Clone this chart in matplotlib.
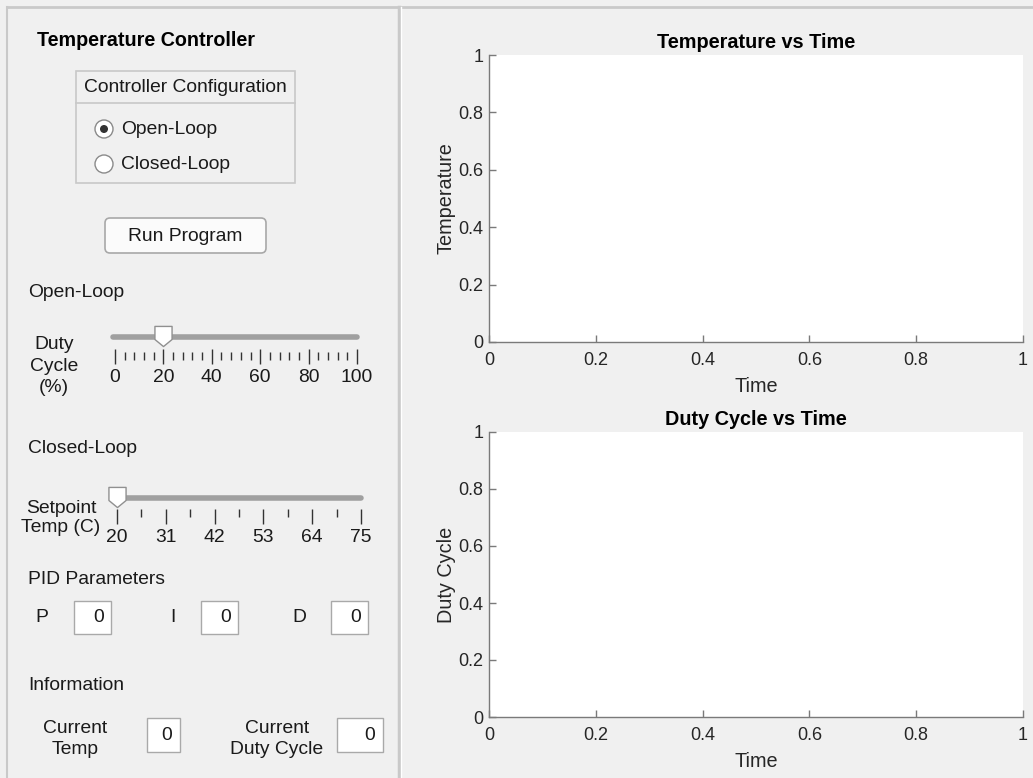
import matplotlib.pyplot as plt
import matplotlib.patches as mpatches
from matplotlib.path import Path
import numpy as np

plt.rcParams['font.family'] = ['Liberation Sans', 'DejaVu Sans']

# dados do app
axis_ticks = [0, 0.2, 0.4, 0.6, 0.8, 1]
axis_labels = ['0', '0.2', '0.4', '0.6', '0.8', '1']
duty_major = [0, 20, 40, 60, 80, 100]
duty_minor = [4, 8, 12, 16, 24, 28, 32, 36, 44, 48, 52, 56, 64, 68, 72, 76, 84, 88, 92, 96]
duty_value = 20
setpoint_major = [20, 31, 42, 53, 64, 75]
setpoint_minor = [25.5, 36.5, 47.5, 58.5, 69.5]
setpoint_value = 20
pid_names = ['P', 'I', 'D']
pid_values = [0, 0, 0]
info_names = ['Current\nTemp', 'Current\nDuty Cycle']
info_values = [0, 0]
radio_options = ['Open-Loop', 'Closed-Loop']
radio_selected = 0

W, H = 1033, 778
BG = '#f0f0f0'
TXT = '#1a1a1a'
FS = 13.9

fig = plt.figure(figsize=(W / 100, H / 100), dpi=100, facecolor=BG)

# camada de fundo em pixels
ax0 = fig.add_axes([0, 0, 1, 1])
ax0.set_xlim(0, W)
ax0.set_ylim(H, 0)
ax0.axis('off')

def px_axes(x0, y0, x1, y1):
    return fig.add_axes([x0 / W, 1 - y1 / H, (x1 - x0) / W, (y1 - y0) / H])

# bordas dos paineis
ax0.plot([7, W], [7, 7], color='#c9c9c9', lw=2)
ax0.plot([7, 7], [7, H], color='#c9c9c9', lw=1.5)
ax0.plot([399, 399], [7, H], color='#c9c9c9', lw=2.5)
ax0.plot([401, 401], [7, H], color='#ffffff', lw=1)

ax0.text(37, 40, 'Temperature Controller', fontsize=14.2, fontweight='bold',
         color='black', ha='left', va='center')

# grupo de botoes
ax0.add_patch(mpatches.Rectangle((76, 71), 219, 112, fill=False, ec='#c8c8c8', lw=1.2))
ax0.plot([76, 295], [103, 103], color='#c8c8c8', lw=1.2)
ax0.text(185.5, 87, 'Controller Configuration', fontsize=FS, color=TXT, ha='center', va='center')
for i, opt in enumerate(radio_options):
    cy = 129 + 35 * i
    ax0.add_patch(mpatches.Circle((104, cy), 9, fc='white', ec='#8a8a8a', lw=1))
    if i == radio_selected:
        ax0.add_patch(mpatches.Circle((104, cy), 4, fc='#333333', ec='none'))
    ax0.text(121, cy, opt, fontsize=FS, color=TXT, ha='left', va='center')

# botao
ax0.add_patch(mpatches.FancyBboxPatch((105, 218), 161, 35, boxstyle='round,pad=0,rounding_size=5',
                                      fc='#fbfbfb', ec='#a8a8a8', lw=1.2))
ax0.text(185.5, 236, 'Run Program', fontsize=FS, color=TXT, ha='center', va='center')

# slider duty cycle
ax0.text(28, 292, 'Open-Loop', fontsize=FS, color=TXT, ha='left', va='center')
ax0.text(54, 366, 'Duty\nCycle\n(%)', fontsize=FS, color=TXT, ha='center', va='center', linespacing=1.35)

thumb = Path([(-0.85, 1), (0.85, 1), (0.85, -0.3), (0, -1), (-0.85, -0.3), (-0.85, 1)],
             [Path.MOVETO, Path.LINETO, Path.LINETO, Path.LINETO, Path.LINETO, Path.CLOSEPOLY])

s1 = px_axes(115, 315, 357, 395)
s1.set_xlim(0, 100)
s1.set_ylim(395, 315)
s1.axis('off')
s1.patch.set_alpha(0)
s1.plot([-1, 100], [337, 337], color='#a0a0a0', lw=4, solid_capstyle='round', clip_on=False)
s1.plot([duty_value], [336], marker=thumb, markersize=14.5, mfc='white', mec='#909090', mew=1, clip_on=False)
s1.vlines(duty_major, 349, 364, color='#333333', lw=1, clip_on=False)
s1.vlines(duty_minor, 352, 360, color='#333333', lw=1, clip_on=False)
for v in duty_major:
    s1.text(v, 377, str(v), fontsize=FS, color=TXT, ha='center', va='center')

# slider setpoint
ax0.text(28, 448, 'Closed-Loop', fontsize=FS, color=TXT, ha='left', va='center')
ax0.text(61, 518, 'Setpoint\nTemp (C)', fontsize=FS, color=TXT, ha='center', va='center', linespacing=1.2)

s2 = px_axes(117, 475, 361, 550)
s2.set_xlim(20, 75)
s2.set_ylim(550, 475)
s2.axis('off')
s2.patch.set_alpha(0)
s2.plot([20, 75], [498, 498], color='#a0a0a0', lw=4, solid_capstyle='round', clip_on=False)
s2.plot([setpoint_value], [497], marker=thumb, markersize=14.5, mfc='white', mec='#909090', mew=1, clip_on=False)
s2.vlines(setpoint_major, 509, 524, color='#333333', lw=1, clip_on=False)
s2.vlines(setpoint_minor, 509, 517, color='#333333', lw=1, clip_on=False)
for v in setpoint_major:
    s2.text(v, 538, str(v), fontsize=FS, color=TXT, ha='center', va='center')

# PID
ax0.text(28, 580, 'PID Parameters', fontsize=FS, color=TXT, ha='left', va='center')
pid_label_x = [42, 173, 299]
pid_box_x = [74, 201, 331]
for name, val, lx, bx in zip(pid_names, pid_values, pid_label_x, pid_box_x):
    ax0.text(lx, 618, name, fontsize=FS, color=TXT, ha='center', va='center')
    ax0.add_patch(mpatches.Rectangle((bx, 601), 37, 33, fc='white', ec='#a9a9a9', lw=1))
    ax0.text(bx + 30, 618, str(val), fontsize=FS, color=TXT, ha='right', va='center')

# informacao
ax0.text(28, 685, 'Information', fontsize=FS, color=TXT, ha='left', va='center')
info_label_x = [75, 277]
info_box = [(147, 33), (337, 46)]
for name, val, lx, (bx, bw) in zip(info_names, info_values, info_label_x, info_box):
    ax0.text(lx, 739, name, fontsize=FS, color=TXT, ha='center', va='center', linespacing=1.35)
    ax0.add_patch(mpatches.Rectangle((bx, 718), bw, 34, fc='white', ec='#a9a9a9', lw=1))
    ax0.text(bx + bw - 8, 735, str(val), fontsize=FS, color=TXT, ha='right', va='center')

# graficos
def style_axes(ax, title, ylabel):
    ax.set_xlim(0, 1)
    ax.set_ylim(0, 1)
    ax.set_xticks(axis_ticks)
    ax.set_xticklabels(axis_labels)
    ax.set_yticks(axis_ticks)
    ax.set_yticklabels(axis_labels)
    for s in ['top', 'right']:
        ax.spines[s].set_visible(False)
    for s in ['left', 'bottom']:
        ax.spines[s].set_color('#7a7a7a')
        ax.spines[s].set_linewidth(1)
    ax.tick_params(direction='in', length=5, width=1, color='#7a7a7a',
                   labelcolor='#262626', labelsize=13)
    ax.tick_params(axis='x', pad=7)
    ax.tick_params(axis='y', pad=4)
    ax.set_title(title, fontsize=14.3, fontweight='bold', color='black', pad=5)
    ax.set_xlabel('Time', fontsize=14.3, color='#262626', labelpad=6)
    ax.set_ylabel(ylabel, fontsize=14.3, color='#262626', labelpad=2)

ax1 = px_axes(489, 55, 1023, 342)
style_axes(ax1, 'Temperature vs Time', 'Temperature')
ax2 = px_axes(489, 432, 1023, 717)
style_axes(ax2, 'Duty Cycle vs Time', 'Duty Cycle')

fig.savefig('out.png', dpi=100, facecolor=BG)
